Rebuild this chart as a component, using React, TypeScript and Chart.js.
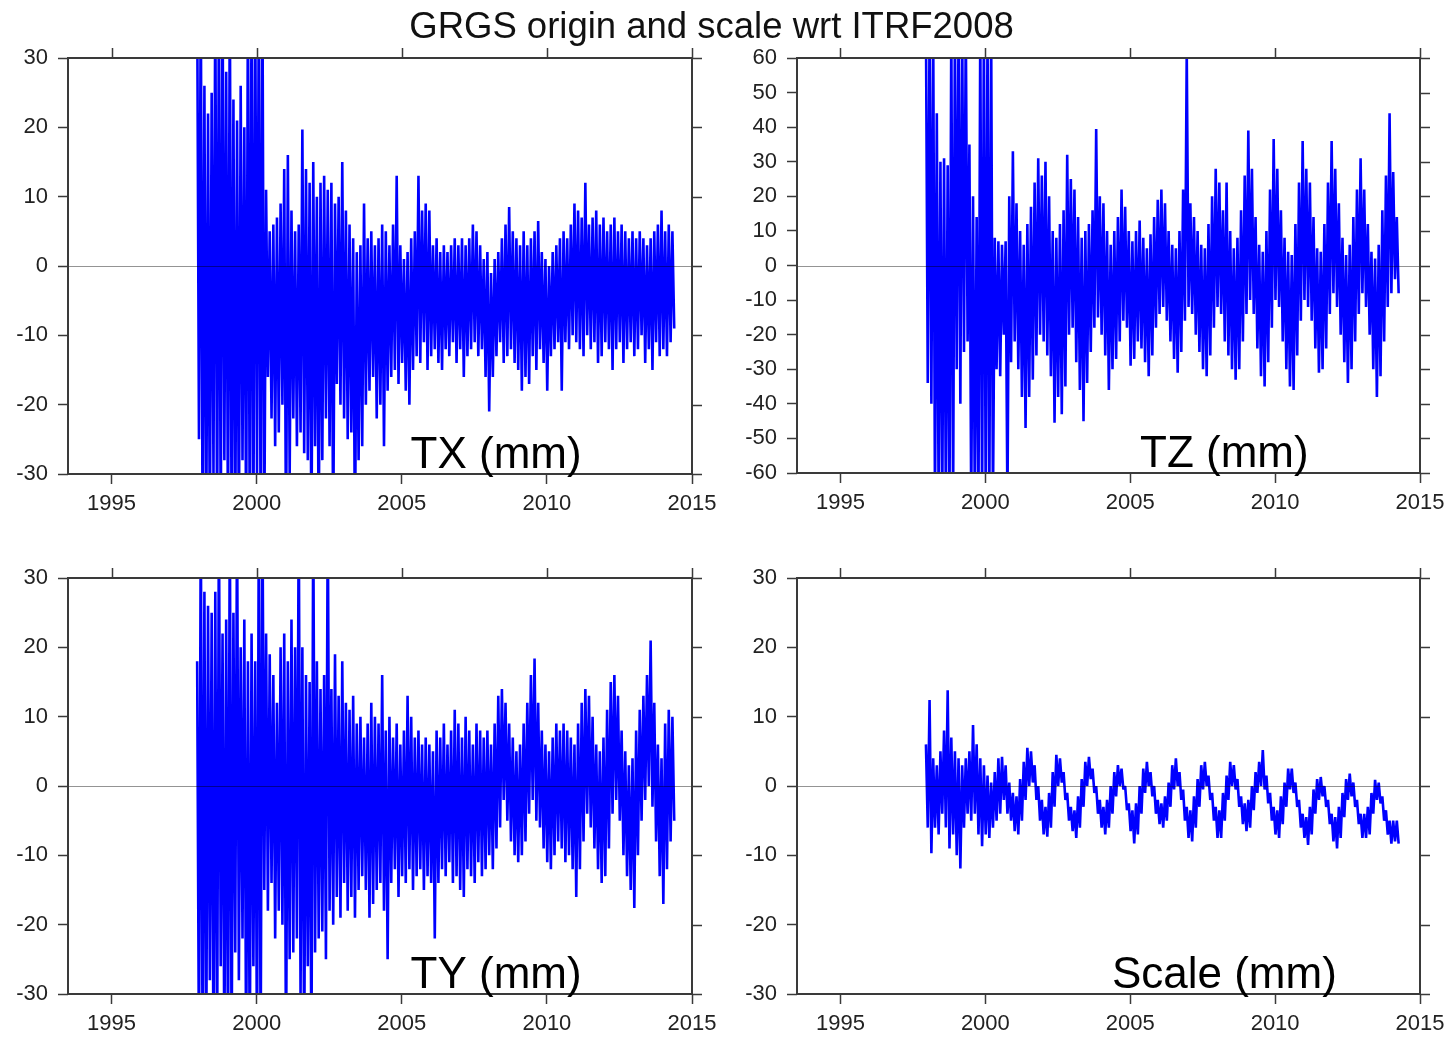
import React, { useEffect, useRef } from 'react';
import { Chart, registerables } from 'chart.js';

Chart.register(...registerables);

// ---- time axis (binned epochs: one max/min pair per 1/8 year) ----
const START_YEAR = 1997.95;
const BIN_STEP = 0.125;
const YEAR_TICKS = [1995, 2000, 2005, 2010, 2015];
const X_MIN = 1993.5;
const X_MAX = 2015;

// ---- TX (mm): per-bin upper / lower envelope ----
const TX_HIGH = [
  40, 40, 26, 22, 25, 40, 40, 40, 28, 40,
  24, 21, 26, 20, 40, 40, 40, 40, 40, 11,
  5, 6, 7, 9, 14, 16, 8, 5, 6, 19.7,
  14, 12, 15, 10, 12, 13, 11, 12, 9, 10,
  15, 8, 6, 4, 2, 3, 9, 4, 5, 3,
  4, 6, 5, 3, 6, 13, 3, 1, 2, 4,
  5, 13, 8, 9, 8, 3, 4, 2, 3, 2,
  3, 4, 3, 4, 3, 4, 6, 5, 3, 1,
  2, -1, 1, 2, 4, 6, 8.5, 5, 4, 3,
  5, 3, 4, 5, 6.5, 2, 1, 0, 2, 3,
  4, 5, 4, 6, 9, 8, 7, 12, 6, 7,
  8, 6, 7, 5, 6, 7, 5, 6, 5, 4,
  5, 4, 5, 4, 3, 4, 5, 6, 8, 5,
  6, 5,
];
const TX_LOW = [
  -25, -40, -40, -40, -30, -40, -40, -28, -40, -40,
  -40, -40, -28, -40, -40, -40, -30, -40, -40, -16,
  -22, -26, -24, -20, -40, -30, -22, -26, -24, -27,
  -28, -40, -26, -40, -28, -22, -26, -40, -17, -20,
  -22, -25, -24, -40, -28, -26, -20, -18, -16, -22,
  -20, -26, -18, -16, -15, -17, -14, -18, -20, -15,
  -13, -14, -11, -15, -13, -12, -14, -15, -12, -13,
  -11, -14, -12, -16, -13, -12, -11, -13, -12, -16,
  -21, -16, -13, -11, -14, -13, -12, -14, -15, -18,
  -16, -17, -13, -15, -12, -14, -18, -13, -12, -11,
  -18, -11, -12, -10, -11, -12, -13, -10, -12, -11,
  -14, -13, -11, -12, -15, -12, -11, -14, -12, -11,
  -13, -12, -10, -14, -12, -15, -11, -13, -12, -13,
  -11, -9,
];

// ---- TZ (mm) ----
const TZ_HIGH = [
  70, 70, 70, 44, 30, 31, 29, 70, 70, 70,
  70, 70, 35, 20, 14, 70, 70, 70, 70, 8,
  7, 6, 7, 20, 33, 18, 10, 6, 12, 17,
  24, 31, 26, 30, 20, 10, 8, 12, 16, 32,
  25, 22, 14, 8, 10, 12, 16, 39.5, 20, 18,
  10, 6, 10, 14, 22, 17, 10, 7, 10, 13,
  8, 5, 9, 14, 19, 22, 18, 10, 6, 5,
  10, 22, 62, 18, 14, 10, 6, 5, 12, 20,
  28, 24, 16, 24, 10, 5, 8, 16, 26, 39,
  28, 14, 6, 4, 10, 22, 36.6, 28, 16, 8,
  4, 3, 12, 24, 36, 28, 24, 14, 5, 4,
  12, 24, 36, 28, 18, 8, 3, 6, 14, 22,
  31, 22, 12, 4, 2, 6, 16, 26, 44, 27,
  14,
];
const TZ_LOW = [
  -34, -40, -70, -70, -70, -70, -70, -70, -30, -40,
  -25, -22, -70, -70, -70, -70, -70, -70, -70, -30,
  -32, -20, -70, -28, -22, -30, -38, -47, -38, -33,
  -26, -20, -22, -26, -32, -45.5, -38, -43, -35, -20,
  -18, -28, -36, -45, -34, -25, -18, -15, -20, -26,
  -36, -30, -27, -22, -16, -18, -29, -27, -22, -24,
  -28, -32, -26, -18, -14, -12, -16, -22, -27, -31,
  -25, -16, -12, -14, -20, -25, -30, -32, -26, -18,
  -12, -14, -22, -26, -30, -33, -30, -22, -14, -10,
  -14, -24, -32, -35, -28, -18, -10, -12, -22, -30,
  -35, -36, -26, -16, -10, -12, -16, -24, -31, -30,
  -24, -14, -8, -12, -20, -28, -34, -30, -22, -14,
  -8, -12, -20, -30, -38, -32, -22, -12, -8, -4,
  -8,
];

// ---- TY (mm) ----
const TY_HIGH = [
  18, 40, 28, 26, 25, 28, 40, 22, 24, 40,
  25, 40, 20, 24, 18, 22, 18, 40, 40, 22,
  19, 16, 12, 20, 22, 18, 24, 20, 40, 20,
  16, 15, 40, 18, 14, 16, 40, 14, 19, 13,
  18, 12, 11, 13, 9, 10, 7, 9, 12, 10,
  9, 16, 8, 10, 7, 9, 6, 8, 13, 10,
  7, 8, 6, 7, 6, 5, 8, 7, 9, 6,
  8, 11, 9, 7, 10, 8, 6, 9, 8, 7,
  8, 6, 9, 13, 14, 12, 9, 7, 5, 6,
  9, 12, 16, 18.4, 12, 8, 6, 5, 7, 9,
  8, 9, 8, 7, 6, 9, 12, 14, 13, 10,
  6, 5, 7, 11, 15, 16, 13, 8, 5, 3,
  4, 8, 11, 13, 16, 21, 12, 6, 4, 9,
  11, 10,
];
const TY_LOW = [
  -40, -40, -40, -28, -40, -40, -26, -40, -40, -40,
  -24, -28, -22, -40, -40, -26, -40, -40, -15, -18,
  -14, -22, -18, -20, -40, -25, -24, -22, -30, -40,
  -26, -40, -24, -22, -21, -25, -18, -20, -16, -19,
  -14, -18, -16, -19, -15, -13, -15, -19, -17, -15,
  -14, -18, -25, -14, -12, -16, -13, -14, -12, -15,
  -13, -12, -15, -13, -14, -22, -14, -12, -13, -11,
  -14, -13, -15, -16, -12, -13, -14, -11, -13, -12,
  -10, -12, -9, -6, -2, -5, -8, -10, -11, -10,
  -8, -4, -2, -5, -6, -9, -11, -12, -10, -8,
  -9, -11, -10, -12, -16, -12, -8, -4, -6, -9,
  -12, -14, -13, -9, -4, -2, -5, -10, -13, -15,
  -17.6, -10, -5, -2, 0, -3, -8, -13, -17, -12,
  -8, -5,
];

// ---- Scale (mm) ----
const SCALE_HIGH = [
  6, 12.4, 4, 3, 5, 8, 13.8, 7, 5, 4,
  3, 4, 5, 8.8, 6, 4, 3, 1.5, 0.5, 2,
  4, 4.2, 3, 0.5, -1, -1.5, 1, 3.5, 5.5, 5,
  3, 0, -2, -3, -1, 2, 4.5, 4, 2, -1,
  -3, -3.5, -1.5, 1, 3.5, 4.2, 2.5, 0, -2, -3,
  -2, 0, 2, 3, 2.5, 0, -2.5, -3.5, -2.5, 0,
  2.5, 3.5, 2, 0, -2, -2.5, -1.5, 0.5, 3, 4,
  2, -0.5, -3, -3.5, -1.5, 1, 3, 3.5, 1.5, -1,
  -3, -3.5, -1, 1.5, 3.5, 3, 1, -1.5, -2.5, -2,
  0, 2, 3.5, 5.2, 1.5, -1, -3, -3.5, -1.5, 0.5,
  2.5, 2.5, 0.5, -2, -4, -4.5, -3, -0.5, 1, 1.3,
  0, -2, -4, -4.5, -3, -1, 1, 1.8, 0.5, -2,
  -4, -4, -3, -1, 0.9, 0.5, -1.5, -3.5, -5, -5,
  -5,
];
const SCALE_LOW = [
  -6, -9.7, -6, -7, -4, -6, -9, -7, -10, -11.9,
  -6, -4, -5, -4, -7, -8.7, -7, -7.5, -6, -5,
  -4, -2, -4, -5, -6.5, -7, -5, -2, 0, 0.5,
  -2, -5, -7, -7.3, -6, -3, 0, 0.5, -2, -5,
  -6.5, -7.5, -6, -3, 0, 1, -1, -4, -6, -7,
  -6, -4, -1.5, 0, -0.5, -3.5, -6.5, -8.3, -7, -4,
  -1, 0, -1.5, -4, -5.5, -6, -5, -3, -0.5, 0,
  -2, -5, -7.5, -8, -6, -3, -0.5, 0, -2, -5,
  -7.5, -7.5, -5, -2, 0, -0.5, -3, -5.5, -6.5, -6,
  -3.5, -1, 0, -0.5, -2.5, -5, -7, -7.5, -5.5, -3,
  -0.5, -1, -3, -6, -7.5, -8.5, -7, -4, -2, -1.5,
  -3, -5.5, -8, -9, -7.5, -4.5, -2, -1.5, -3, -5.5,
  -7.5, -7.5, -7, -4, -2, -2.5, -5, -7, -8.3, -8,
  -8.3,
];

const TITLE = 'GRGS origin and scale wrt ITRF2008';
const FONT_FAMILY = '"Liberation Sans", Arial, Helvetica, sans-serif';

type Box = { left: number; top: number; width: number; height: number };
type Area = { left: number; top: number; right: number; bottom: number };
type PanelCfg = {
  label: string;
  high: number[];
  low: number[];
  yMin: number;
  yMax: number;
  canvas: Box;
  area: Area;
};

const PANELS: PanelCfg[] = [
  {
    label: 'TX (mm)', high: TX_HIGH, low: TX_LOW, yMin: -30, yMax: 30,
    canvas: { left: 0, top: 28, width: 727, height: 512 },
    area: { left: 68, top: 58, right: 692, bottom: 474 },
  },
  {
    label: 'TZ (mm)', high: TZ_HIGH, low: TZ_LOW, yMin: -60, yMax: 60,
    canvas: { left: 727, top: 28, width: 728, height: 512 },
    area: { left: 797, top: 58, right: 1420, bottom: 473 },
  },
  {
    label: 'TY (mm)', high: TY_HIGH, low: TY_LOW, yMin: -30, yMax: 30,
    canvas: { left: 0, top: 540, width: 727, height: 497 },
    area: { left: 68, top: 578, right: 692, bottom: 994 },
  },
  {
    label: 'Scale (mm)', high: SCALE_HIGH, low: SCALE_LOW, yMin: -30, yMax: 30,
    canvas: { left: 727, top: 540, width: 728, height: 497 },
    area: { left: 797, top: 578, right: 1420, bottom: 994 },
  },
];

function buildPoints(high: number[], low: number[]) {
  const pts: { x: number; y: number }[] = [];
  for (let i = 0; i < high.length; i++) {
    const t = START_YEAR + i * BIN_STEP;
    pts.push({ x: t, y: high[i] });
    pts.push({ x: t + BIN_STEP / 2, y: low[i] });
  }
  return pts;
}

function makeFramePlugin(label: string) {
  return {
    id: 'frameAndLabel',
    afterDatasetsDraw(chart: any) {
      const { ctx, chartArea: a, scales } = chart;
      const xs = scales.x;
      const ys = scales.y;
      ctx.save();
      // zero line
      const y0 = Math.round(ys.getPixelForValue(0)) + 0.5;
      ctx.strokeStyle = 'rgba(0,0,0,0.42)';
      ctx.lineWidth = 1;
      ctx.beginPath();
      ctx.moveTo(a.left, y0);
      ctx.lineTo(a.right, y0);
      ctx.stroke();
      // frame
      ctx.strokeStyle = '#3a3a3a';
      ctx.lineWidth = 2;
      ctx.strokeRect(a.left, a.top, a.right - a.left, a.bottom - a.top);
      // top and right outward ticks
      ctx.lineWidth = 1.5;
      ctx.beginPath();
      for (const v of YEAR_TICKS) {
        const px = Math.round(xs.getPixelForValue(v)) + 0.5;
        ctx.moveTo(px, a.top);
        ctx.lineTo(px, a.top - 10);
      }
      for (const t of ys.ticks) {
        const py = Math.round(ys.getPixelForValue(t.value)) + 0.5;
        ctx.moveTo(a.right, py);
        ctx.lineTo(a.right + 10, py);
      }
      ctx.stroke();
      // panel label
      ctx.fillStyle = '#000';
      ctx.font = `44px ${FONT_FAMILY}`;
      ctx.textAlign = 'center';
      ctx.textBaseline = 'alphabetic';
      ctx.fillText(label, a.left + 0.686 * (a.right - a.left), a.bottom - 6);
      ctx.restore();
    },
  };
}

function Panel({ cfg }: { cfg: PanelCfg }) {
  const ref = useRef<HTMLCanvasElement | null>(null);
  useEffect(() => {
    const canvas = ref.current;
    if (!canvas) return;
    const { canvas: box, area } = cfg;
    const tickFont = { family: FONT_FAMILY, size: 22 };
    const chart = new Chart(canvas, {
      type: 'line',
      data: {
        datasets: [
          {
            data: buildPoints(cfg.high, cfg.low),
            borderColor: '#0000ff',
            borderWidth: 2.6,
            borderJoinStyle: 'bevel',
            pointRadius: 0,
            tension: 0,
            fill: false,
            clip: 1,
          } as any,
        ],
      },
      options: {
        animation: false,
        responsive: false,
        devicePixelRatio: 1,
        events: [],
        layout: {
          padding: {
            left: 0,
            top: area.top - box.top,
            right: box.left + box.width - area.right,
            bottom: 0,
          },
        },
        plugins: { legend: { display: false }, tooltip: { enabled: false }, title: { display: false } },
        scales: {
          x: {
            type: 'linear',
            min: X_MIN,
            max: X_MAX,
            afterBuildTicks: (s: any) => {
              s.ticks = YEAR_TICKS.map((v) => ({ value: v }));
            },
            afterFit: (s: any) => {
              s.height = box.top + box.height - area.bottom;
            },
            grid: {
              display: true,
              drawOnChartArea: false,
              drawTicks: true,
              tickLength: 10,
              tickColor: '#3a3a3a',
              tickWidth: 1.5,
            },
            border: { display: false },
            ticks: {
              autoSkip: false,
              maxRotation: 0,
              padding: 7,
              color: '#222',
              font: tickFont,
              callback: (v: any) => String(v),
            },
          },
          y: {
            type: 'linear',
            min: cfg.yMin,
            max: cfg.yMax,
            afterFit: (s: any) => {
              s.width = area.left - box.left;
            },
            grid: {
              display: true,
              drawOnChartArea: false,
              drawTicks: true,
              tickLength: 10,
              tickColor: '#3a3a3a',
              tickWidth: 1.5,
            },
            border: { display: false },
            ticks: {
              stepSize: 10,
              padding: 10,
              color: '#222',
              font: tickFont,
              callback: (v: any) => String(v),
            },
          },
        },
      } as any,
      plugins: [makeFramePlugin(cfg.label)],
    });
    return () => chart.destroy();
  }, [cfg]);
  const { canvas: box } = cfg;
  return (
    <canvas
      ref={ref}
      width={box.width}
      height={box.height}
      style={{ position: 'absolute', left: box.left, top: box.top, width: box.width, height: box.height }}
    />
  );
}

export default function App() {
  return (
    <div style={{ position: 'absolute', left: 0, top: 0, width: 1455, height: 1037, background: '#fff', overflow: 'hidden' }}>
      {PANELS.map((p) => (
        <Panel key={p.label} cfg={p} />
      ))}
      <div
        style={{
          position: 'absolute',
          left: 0,
          top: 8,
          width: 1423,
          textAlign: 'center',
          fontFamily: FONT_FAMILY,
          fontSize: 36.5,
          lineHeight: '36px',
          color: '#111',
          whiteSpace: 'nowrap',
        }}
      >
        {TITLE}
      </div>
    </div>
  );
}
